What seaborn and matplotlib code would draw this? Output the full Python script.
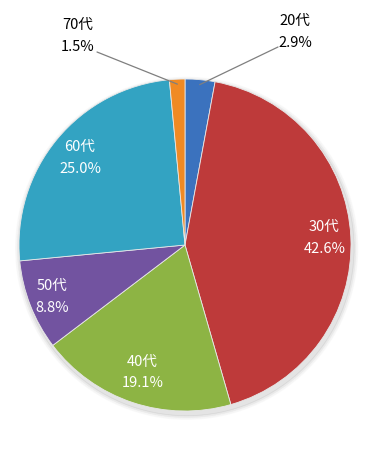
import numpy as np
import matplotlib
matplotlib.use("Agg")
import matplotlib.pyplot as plt
import seaborn as sns

categories = ["20代", "30代", "40代", "50代", "60代", "70代"]
values = [2.9, 42.6, 19.1, 8.8, 25.0, 1.5]
colors = ["#3B72BE", "#BE3A3A", "#8DB444", "#7253A0", "#33A3C2", "#F08A24"]

sns.set_theme(style="white")
plt.rcParams['font.family'] = ['Noto Sans CJK JP', 'DejaVu Sans']

fig = plt.figure(figsize=(3.68, 4.51), dpi=100)
ax = fig.add_axes([0, 0, 1, 1])
R = 166.0
cx, cy = 185.0, 451 - 245.0

# soft shadow
for i, a in enumerate([0.05, 0.035, 0.02]):
    sh = plt.Circle((0.01, -0.02), 1.0 + 0.01 * (i + 1), color="black", alpha=a, zorder=0)
    ax.add_patch(sh)

wedges, _ = ax.pie(values, colors=colors, startangle=90, counterclock=False,
                   radius=1.0, center=(0, 0),
                   wedgeprops=dict(edgecolor="#e8e8e8", linewidth=0.6), frame=True)
ax.set_xlim(-cx / R, (368 - cx) / R)
ax.set_ylim(-cy / R, (451 - cy) / R)
ax.set_aspect("equal")
ax.axis("off")

fs = 10.5
ls = 1.7
inner_r = {1: 0.84, 2: 0.81, 3: 0.86, 4: 0.82}
for i, w in enumerate(wedges):
    mid = np.deg2rad((w.theta1 + w.theta2) / 2)
    txt = f"{categories[i]}\n{values[i]:.1f}%"
    if i in inner_r:
        r = inner_r[i]
        ax.text(r * np.cos(mid), r * np.sin(mid), txt, ha="center", va="center",
                color="white", fontsize=fs, linespacing=ls)

# outside labels with leader lines
out = {0: ((295 - cx) / R, (451 - 32 - cy) / R, (278 - cx) / R, (451 - 47 - cy) / R),
       5: ((78 - cx) / R, (451 - 36 - cy) / R, (97 - cx) / R, (451 - 52 - cy) / R)}
for i, (tx, ty, lx, ly) in out.items():
    w = wedges[i]
    mid = np.deg2rad((w.theta1 + w.theta2) / 2)
    px, py = 0.97 * np.cos(mid), 0.97 * np.sin(mid)
    ax.plot([lx, px], [ly, py], color="#7f7f7f", lw=0.9, zorder=5)
    ax.text(tx, ty, f"{categories[i]}\n{values[i]:.1f}%", ha="center", va="center",
            color="black", fontsize=fs, linespacing=ls)

fig.savefig("out.png", dpi=100)
